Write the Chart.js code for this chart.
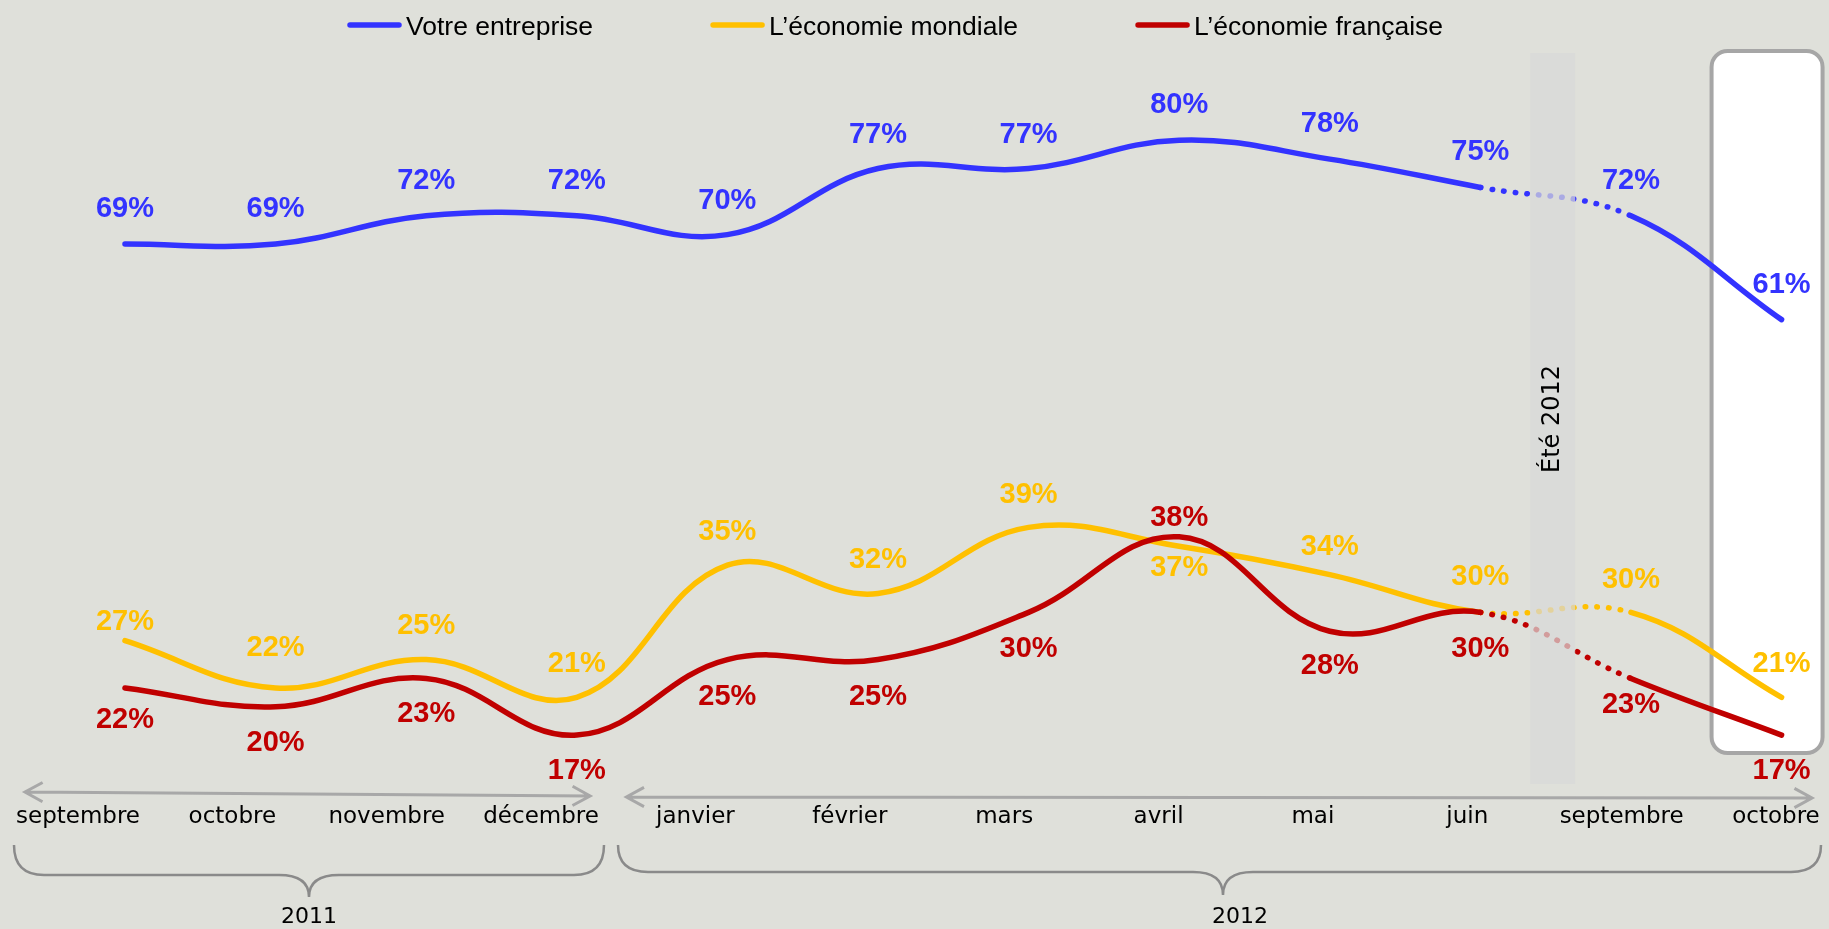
<!DOCTYPE html>
<html lang="fr">
<head>
<meta charset="UTF-8">
<title>Confiance : votre entreprise et l'économie</title>
<script src="https://cdn.jsdelivr.net/npm/chart.js"></script>
<style>
  html, body { margin: 0; padding: 0; background: #dfe0da; }
  #graf { display: block; }
</style>
</head>
<body>
<canvas id="graf" width="1829" height="929"></canvas>
<script>
// données
const mois = ["septembre", "octobre", "novembre", "décembre", "janvier", "février",
              "mars", "avril", "mai", "juin", "septembre", "octobre"];
const annees = ["2011", "2012"];
const series = ["Votre entreprise", "L’économie mondiale", "L’économie française"];
const entreprise = [69, 69, 72, 72, 70, 77, 77, 80, 78, 75, 72, 61];
const mondiale   = [27, 22, 25, 21, 35, 32, 39, 37, 34, 30, 30, 21];
const francaise  = [22, 20, 23, 17, 25, 25, 30, 38, 28, 30, 23, 17];

// décalage vertical des étiquettes (px, négatif = au-dessus)
const posEntreprise = [-35, -35, -35, -35, -34, -34, -34, -35, -35, -35, -35, -35];
const posMondiale   = [-19, -40, -34, -33, -33, -33, -32, 22, -28, -35, -32, -33];
const posFrancaise  = [32, 36, 36, 36, 37, 37, 37, -19, 35, 37, 27, 36];

const BLEU = "#3333ff", JAUNE = "#ffc000", ROUGE = "#c00000";
const FOND = "#dfe0da";
const ete = 9.5;      // entre juin et septembre 2012

function serie(label, valeurs, couleur, pos, ordre) {
  return {
    label: label,
    data: valeurs.map((v, i) => ({ x: i, y: v })),
    pos: pos,
    order: ordre,
    borderColor: couleur,
    backgroundColor: couleur,
    borderWidth: 5.5,
    borderCapStyle: "round",
    borderJoinStyle: "round",
    tension: 0.4,
    pointRadius: 0,
    clip: false,
    xAxisID: "x",
    yAxisID: "y",
    segment: {
      borderDash: c => c.p0DataIndex === 9 ? [0.5, 11.2] : undefined
    }
  };
}

function fleche(ctx, x1, y1, x2, y2) {
  const a = Math.atan2(y2 - y1, x2 - x1), L = 20, b = 0.5;
  ctx.beginPath();
  ctx.moveTo(x1, y1); ctx.lineTo(x2, y2);
  ctx.moveTo(x1 + L * Math.cos(a - b), y1 + L * Math.sin(a - b));
  ctx.lineTo(x1, y1);
  ctx.lineTo(x1 + L * Math.cos(a + b), y1 + L * Math.sin(a + b));
  ctx.moveTo(x2 - L * Math.cos(a - b), y2 - L * Math.sin(a - b));
  ctx.lineTo(x2, y2);
  ctx.lineTo(x2 - L * Math.cos(a + b), y2 - L * Math.sin(a + b));
  ctx.stroke();
}

function accolade(ctx, x1, x2, xm, yHaut, yMil, yPointe, r) {
  ctx.beginPath();
  ctx.moveTo(x1, yHaut);
  ctx.quadraticCurveTo(x1, yMil, x1 + r, yMil);
  ctx.lineTo(xm - r, yMil);
  ctx.quadraticCurveTo(xm, yMil, xm, yPointe);
  ctx.quadraticCurveTo(xm, yMil, xm + r, yMil);
  ctx.lineTo(x2 - r, yMil);
  ctx.quadraticCurveTo(x2, yMil, x2, yHaut);
  ctx.stroke();
}

const decor = {
  id: "decor",
  beforeDraw(chart) {
    const ctx = chart.ctx;
    ctx.save();
    ctx.fillStyle = FOND;
    ctx.fillRect(0, 0, chart.width, chart.height);
    ctx.restore();
  },
  beforeDatasetsDraw(chart) {
    // cadre blanc du dernier mois
    const ctx = chart.ctx, x = chart.scales.x;
    const cx = x.getPixelForValue(11);
    ctx.save();
    ctx.beginPath();
    ctx.roundRect(cx - 70, 51, 111, 702, 16);
    ctx.fillStyle = "#ffffff";
    ctx.fill();
    ctx.lineWidth = 4;
    ctx.strokeStyle = "#a6a6a6";
    ctx.stroke();
    ctx.restore();
  },
  afterDatasetsDraw(chart) {
    const ctx = chart.ctx, x = chart.scales.x, xl = chart.scales.xl;
    ctx.save();

    // bande été 2012
    const bx = x.getPixelForValue(ete) - 3;
    ctx.fillStyle = "rgba(216,216,216,0.72)";
    ctx.fillRect(bx - 22.5, 53, 45, 731);
    ctx.save();
    ctx.translate(bx, 419);
    ctx.rotate(-Math.PI / 2);
    ctx.fillStyle = "#000";
    ctx.font = "24px 'DejaVu Sans', sans-serif";
    ctx.textAlign = "center";
    ctx.textBaseline = "middle";
    ctx.fillText("Été 2012", 0, 0);
    ctx.restore();

    // étiquettes de valeurs
    ctx.font = "bold 29px 'Liberation Sans', Arial, sans-serif";
    ctx.textAlign = "center";
    ctx.textBaseline = "middle";
    chart.data.datasets.forEach((ds, d) => {
      const meta = chart.getDatasetMeta(d);
      ctx.fillStyle = ds.borderColor;
      meta.data.forEach((el, i) => {
        ctx.fillText(ds.data[i].y + "%", el.x, el.y + ds.pos[i]);
      });
    });

    // légende
    ctx.font = "26.5px 'Liberation Sans', Arial, sans-serif";
    ctx.textAlign = "left";
    ctx.textBaseline = "alphabetic";
    ctx.lineCap = "round";
    ctx.lineWidth = 5.5;
    let lx = 347;
    chart.data.datasets.forEach(ds => {
      ctx.strokeStyle = ds.borderColor;
      ctx.beginPath();
      ctx.moveTo(lx + 3, 25);
      ctx.lineTo(lx + 52, 25);
      ctx.stroke();
      ctx.fillStyle = "#000";
      ctx.fillText(ds.label, lx + 59, 35);
      lx += 59 + ctx.measureText(ds.label).width + 117;
    });

    // flèches au-dessus des mois
    ctx.strokeStyle = "#a8a8a8";
    ctx.lineWidth = 3;
    ctx.lineCap = "butt";
    fleche(ctx, xl.getPixelForTick(0) - 53, 792, xl.getPixelForTick(3) + 49, 796);
    fleche(ctx, xl.getPixelForTick(4) - 69, 797, xl.getPixelForTick(11) + 36, 798);

    // accolades et années
    ctx.strokeStyle = "#8a8a8a";
    ctx.lineWidth = 2.5;
    accolade(ctx, 14, 604, 309, 845, 875, 897, 30);
    accolade(ctx, 618, 1821, 1223, 845, 872, 895, 30);
    ctx.fillStyle = "#000";
    ctx.font = "22px 'DejaVu Sans', sans-serif";
    ctx.textAlign = "center";
    ctx.textBaseline = "middle";
    ctx.fillText(annees[0], 309, 917);
    ctx.fillText(annees[1], 1240, 917);

    ctx.restore();
  }
};

new Chart(document.getElementById("graf"), {
  type: "line",
  data: {
    datasets: [
      serie(series[0], entreprise, BLEU, posEntreprise, 0),
      serie(series[1], mondiale, JAUNE, posMondiale, 1),
      serie(series[2], francaise, ROUGE, posFrancaise, -1)
    ]
  },
  options: {
    responsive: false,
    animation: false,
    devicePixelRatio: 1,
    layout: { padding: { top: 93, left: 78, right: 53, bottom: 0 } },
    plugins: {
      legend: { display: false },
      tooltip: { enabled: false }
    },
    elements: {
      point: { radius: 0 },
      line: { capBezierPoints: false }
    },
    scales: {
      x: { type: "linear", display: false, min: -0.312, max: 10.963 },
      y: { type: "linear", display: false, min: 15, max: 85 },
      xl: {
        type: "category",
        labels: mois,
        position: "bottom",
        offset: false,
        grid: { display: false, drawTicks: false },
        border: { display: false },
        ticks: {
          autoSkip: false,
          maxRotation: 0,
          padding: 49,
          color: "#000",
          font: { size: 23, family: "'DejaVu Sans', sans-serif" }
        },
        afterFit(s) {
          s.height = 175;
          s.paddingLeft = 0;
          s.paddingRight = 0;
        }
      }
    }
  },
  plugins: [decor]
});
</script>
</body>
</html>
